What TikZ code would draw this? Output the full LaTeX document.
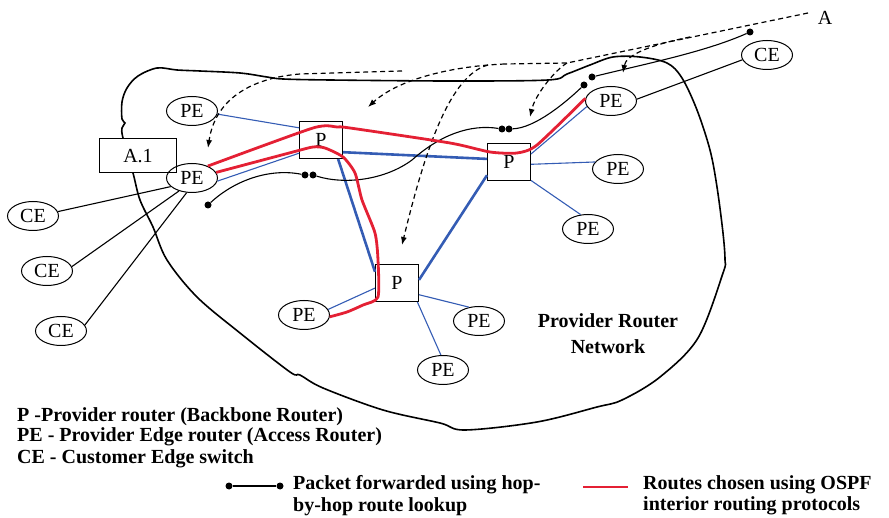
\documentclass[tikz,border=0pt]{standalone}
\usepackage{fontspec}
\setmainfont{Liberation Serif}
\usetikzlibrary{shapes.geometric,arrows.meta}
\definecolor{linkblue}{RGB}{52,92,180}
\definecolor{ospfred}{RGB}{228,32,52}
\begin{document}
\begin{tikzpicture}[x=1pt,y=-1pt,
  every node/.style={font=\fontsize{20}{21}\selectfont},
  pe/.style={ellipse,draw,line width=1pt,minimum width=51pt,minimum height=29pt,inner sep=0pt},
  prouter/.style={rectangle,draw,line width=1pt,fill=white,minimum width=43pt,minimum height=37pt,inner sep=0pt},
  hopdot/.style={circle,fill,inner sep=0pt,minimum size=7pt},
  access/.style={linkblue,line width=1.1pt},
  core/.style={linkblue,line width=2.6pt},
  custlink/.style={line width=1.1pt},
  hop/.style={line width=1.1pt},
  ospf/.style={ospfred,line width=2.8pt,line join=round},
  lsp/.style={line width=1.2pt,dash pattern=on 5pt off 3.5pt},
  lsparrow/.style={lsp,-{Latex[length=8pt,width=6pt]}},
  legend/.style={font=\fontsize{20}{21}\selectfont\bfseries,anchor=base west,align=left,inner sep=0pt}]
  \useasboundingbox (0,0) rectangle (889,518);
  % provider network boundary
  \draw[line width=1.6pt] plot[smooth cycle,tension=0.55] coordinates {
    (123,138) (122,128) (125,123) (122,119) (122,102) (127,88) (138,76) (157,68)
    (177,70) (200,71) (240,73) (267,77) (283,79) (330,80) (450,81) (548,80)
    (567,74) (590,65) (613,57) (640,57) (667,63) (682,78) (697,110) (710,150)
    (717,187) (723,233) (725,260) (723,273) (698,338) (660,377) (622,400)
    (597,407) (537,422) (465,430) (440,423) (383,410) (323,388) (300,375)
    (290,372) (240,333) (197,297) (167,260) (153,227) (140,200) (133,173)};
  % routers
  \node[prouter,minimum width=77pt,minimum height=34pt] (a1) at (138,156) {A.1};
  \node[pe] (pe) at (192,178) {PE};
  \node[pe] (petl) at (192,111) {PE};
  \node[prouter] (p1) at (321,140) {P};
  \node[prouter] (p2) at (509,162) {P};
  \node[prouter] (p3) at (397,283) {P};
  \node[pe] (pert) at (611,101) {PE};
  \node[pe] (cert) at (767,55) {CE};
  \node[pe] (per) at (618,169) {PE};
  \node[pe] (peb) at (588,229) {PE};
  \node[pe] (pel3) at (304,315) {PE};
  \node[pe] (per3) at (479,321) {PE};
  \node[pe] (peb3) at (443,370) {PE};
  \node[pe] (ce1) at (33,216) {CE};
  \node[pe] (ce2) at (47,271) {CE};
  \node[pe] (ce3) at (61,331) {CE};
  \node (a) at (825,18) {A};
  \coordinate (a0) at (808,13);
  \node[font=\fontsize{20}{26}\selectfont\bfseries,align=center] (prn) at (608,334) {Provider Router\\Network};
  % links
  \draw[custlink] (ce1.10) -- (pe.202);
  \draw[custlink] (ce2.10) -- (pe.225);
  \draw[custlink] (ce3.14) -- (pe.250);
  \draw[custlink] (pert.4) -- (cert.191);
  \draw[access] (petl.-7) -- (p1.151);
  \draw[access] (pe.-7) -- (p1.211);
  \draw[core] (p1.-29) -- (p2.172);
  \draw[core] (p1.-48) -- (p3.153);
  \draw[core] (p2.211) -- (p3.8);
  \draw[access] (p2.20) -- (pert.193);
  \draw[access] (p2.-6) -- (per.163);
  \draw[access] (p2.-40) -- (peb.117);
  \draw[access] (p3.193) -- (pel3.13);
  \draw[access] (p3.-28) -- (per3.126);
  \draw[access] (p3.-43) -- (peb3.98);
  % label distribution from A
  \draw[lsp] (a0) -- (567,63) -- (505,64);
  \draw[lsparrow] (505,64) .. controls (455,66) and (400,78) .. (368,107);
  \draw[lsparrow] (488,65) .. controls (450,75) and (425,150) .. (402,245);
  \draw[lsparrow] (567,63) .. controls (555,70) and (535,95) .. (530,117);
  \draw[lsparrow] (690,37) .. controls (650,45) and (626,55) .. (623,73);
  \draw[lsparrow] (402,71) -- (300,74) .. controls (250,78) and (215,100) .. (208,148);
  % hop-by-hop path
  \node[hopdot] (d1) at (750,32) {};
  \node[hopdot] (d2) at (592,77) {};
  \node[hopdot] (d3) at (584,85) {};
  \node[hopdot] (d4) at (509,129) {};
  \node[hopdot] (d5) at (502,129) {};
  \node[hopdot] (d6) at (313,175) {};
  \node[hopdot] (d7) at (305,175) {};
  \node[hopdot] (d8) at (208,205) {};
  \draw[hop] (d1) .. controls (705,52) and (645,64) .. (d2);
  \draw[hop] (d3) .. controls (565,103) and (535,128) .. (d4);
  \draw[hop] (d5) .. controls (470,124) and (440,135) .. (412,160)
    .. controls (385,180) and (345,185) .. (d6);
  \draw[hop] (d7) .. controls (270,168) and (235,180) .. (d8);
  % OSPF routes
  \draw[ospf] plot[smooth,tension=0.4] coordinates {(pe.37) (313,128) (337,127)
    (350,128) (450,143) (490,152) (517,153) (537,145) (pert.174)};
  \draw[ospf] plot[smooth,tension=0.4] coordinates {(pe.13) (293,152) (313,147)
    (325,148) (343,157) (355,173) (362,200) (375,233) (378,260) (378,297)
    (363,305) (347,312) (pel3.-4)};
  % key
  \node[legend] (keyp) at (17,463) {P -Provider router (Backbone Router)\\PE - Provider Edge router (Access Router)\\CE - Customer Edge switch};
  \node[hopdot] (k1) at (229,486) {};
  \node[hopdot] (k2) at (280,486) {};
  \draw[hop] (k1) -- (k2);
  \node[legend] (keyhop) at (293,511) {Packet forwarded using hop-\\by-hop route lookup};
  \coordinate (r1) at (583,487);
  \coordinate (r2) at (628,487);
  \draw[ospf] (r1) -- (r2);
  \node[legend] (keyospf) at (643,510) {Routes chosen using OSPF\\interior routing protocols};
\end{tikzpicture}
\end{document}
